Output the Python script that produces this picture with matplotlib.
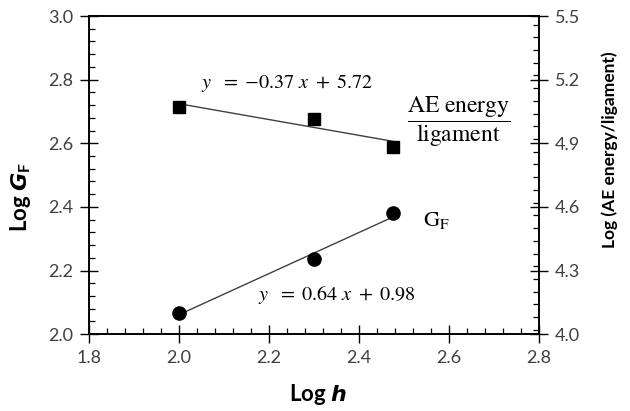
import matplotlib.pyplot as plt
import numpy as np
from matplotlib.ticker import MultipleLocator

# data
log_h = [2.0, 2.301, 2.477]
log_gf = [2.068, 2.236, 2.381]            # left axis
log_ae = [5.072, 5.014, 4.884]            # right axis
x_ticks = [1.8, 2.0, 2.2, 2.4, 2.6, 2.8]
left_ticks = [2.0, 2.2, 2.4, 2.6, 2.8, 3.0]
right_ticks = [4.0, 4.3, 4.6, 4.9, 5.2, 5.5]

plt.rcParams['font.family'] = ['Lato', 'DejaVu Sans']
plt.rcParams['mathtext.fontset'] = 'custom'
plt.rcParams['mathtext.rm'] = 'Lato:bold'
plt.rcParams['mathtext.it'] = 'DejaVu Sans:bold:italic'
plt.rcParams['mathtext.bf'] = 'Lato:bold'

tick_col = '#404040'

fig = plt.figure(figsize=(6.3, 4.11), dpi=100)
ax = fig.add_axes([0.141, 0.187, 0.714, 0.774])
ax2 = ax.twinx()

# G_F points and fit (left axis)
ax.plot(log_h, log_gf, 'o', color='black', markersize=9.5, zorder=3)
p = np.polyfit(log_h, log_gf, 1)
xs = np.array([log_h[0], log_h[-1]])
ax.plot(xs, np.polyval(p, xs), color='#404040', lw=1.0, zorder=2)

# AE energy points and fit (right axis)
ax2.plot(log_h, log_ae, 's', color='black', markersize=8.5, zorder=3)
p2 = np.polyfit(log_h, log_ae, 1)
ax2.plot(xs, np.polyval(p2, xs), color='#404040', lw=1.0, zorder=2)

ax.set_xlim(1.8, 2.8)
ax.set_ylim(2.0, 3.0)
ax2.set_ylim(4.0, 5.5)
ax.set_xticks(x_ticks)
ax.set_yticks(left_ticks)
ax2.set_yticks(right_ticks)
ax.xaxis.set_minor_locator(MultipleLocator(0.04))
ax.yaxis.set_minor_locator(MultipleLocator(0.04))
ax2.yaxis.set_minor_locator(MultipleLocator(0.06))
ax.set_xticklabels([f'{v:.1f}' for v in x_ticks])
ax.set_yticklabels([f'{v:.1f}' for v in left_ticks])
ax2.set_yticklabels([f'{v:.1f}' for v in right_ticks])

for a in (ax, ax2):
    a.tick_params(which='major', direction='inout', length=13, width=1.0,
                  labelsize=13, labelcolor=tick_col, pad=5)
    a.tick_params(which='minor', direction='in', length=4, width=0.9)
    for s in a.spines.values():
        s.set_linewidth(1.2)
ax.tick_params(top=False, which='both')
ax2.tick_params(top=False, which='both')

ax.set_xlabel(r'Log $h$', fontsize=16, fontweight='bold')
ax.xaxis.set_label_coords(0.51, -0.15)
ax.set_ylabel(r'Log $G_{\mathrm{F}}$', fontsize=16, fontweight='bold')
ax.yaxis.set_label_coords(-0.125, 0.43)
ax2.set_ylabel('Log (AE energy/ligament)', fontsize=12.5, fontweight='bold')
ax2.yaxis.set_label_coords(1.14, 0.58)

# annotations
ax.text(2.24, 2.789, r'$y\ \ =\ {-0.37}\ x\ +\ 5.72$', fontsize=14.5, math_fontfamily='stix',
        ha='center', va='center')
ax.text(2.352, 2.123, r'$y\ \ =\ 0.64\ x\ +\ 0.98$', fontsize=14.5, math_fontfamily='stix',
        ha='center', va='center')
ax.text(2.622, 2.668, r'$\dfrac{\mathrm{AE\ energy}}{\mathrm{ligament}}$', fontsize=17,
        math_fontfamily='stix', ha='center', va='center')
ax.text(2.573, 2.358, r'$\mathrm{G_F}$', fontsize=16, math_fontfamily='stix',
        ha='center', va='center')

fig.savefig('out.png', dpi=100)
